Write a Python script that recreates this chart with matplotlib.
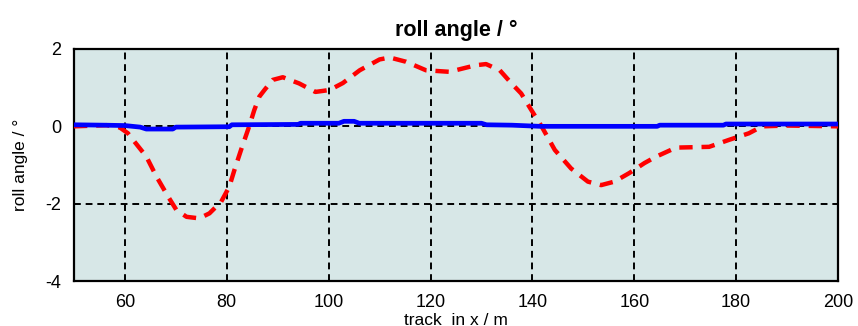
import matplotlib
matplotlib.use("Agg")
import matplotlib.pyplot as plt
import numpy as np

plt.rcParams["font.family"] = ["Liberation Sans", "DejaVu Sans"]
plt.rcParams["axes.unicode_minus"] = False

# 横揺れ角 (roll angle) — 赤破線
red_x = [50, 56.4, 59, 60.6, 61.9, 64.2, 66.2, 68.5, 70.1, 72.1, 74.6, 76.6,
         78.9, 80.5, 81.5, 82.8, 84.4, 85.4, 86.4, 87.4, 89, 91, 94.2, 97.4,
         100.2, 102.8, 106.1, 110, 112, 115.2, 119.1, 123.7, 128.9, 130.9,
         133.6, 135.9, 137.8, 139.8, 141.8, 144.4, 147.6, 150.9, 153.5, 156.1,
         159, 162, 164.2, 168.2, 174.7, 178.6, 182.5, 185.1, 190, 200]
red_y = [0.0, 0.03, -0.03, -0.18, -0.4, -0.78, -1.3, -1.82, -2.16, -2.34,
         -2.38, -2.25, -1.95, -1.56, -1.13, -0.61, 0.0, 0.42, 0.77, 0.94, 1.2,
         1.27, 1.11, 0.89, 0.94, 1.12, 1.45, 1.73, 1.78, 1.67, 1.45, 1.41, 1.58,
         1.61, 1.45, 1.11, 0.85, 0.42, 0.0, -0.61, -1.09, -1.43, -1.52, -1.43,
         -1.21, -0.95, -0.79, -0.55, -0.53, -0.35, -0.18, 0.0, 0.02, 0.0]

# 横揺れ角 — 青実線 (ほぼ 0)
blue_x = [50, 56, 60, 63, 64.2, 69.4, 70, 80.5, 81, 94, 94.5, 102, 103, 105,
          106, 130, 131, 136, 141.5, 164.5, 165, 177.5, 178, 200]
blue_y = [0.04, 0.03, 0.02, -0.02, -0.07, -0.07, -0.02, -0.01, 0.04, 0.05,
          0.08, 0.08, 0.13, 0.13, 0.08, 0.08, 0.04, 0.03, 0.0, 0.0, 0.03, 0.03,
          0.06, 0.06]

x_ticks = [60, 80, 100, 120, 140, 160, 180, 200]
y_ticks = [-4, -2, 0, 2]

fig = plt.figure(figsize=(8.58, 3.26), dpi=100)
ax = fig.add_axes([0.0862, 0.138, 0.8905, 0.7117])
ax.set_facecolor("#d7e7e7")

ax.plot(red_x, red_y, color="#ff0000", lw=3.2, ls=(0, (3, 2)), zorder=3)
ax.plot(blue_x, blue_y, color="#0000ff", lw=3.4, zorder=4)

ax.set_xlim(50, 200)
ax.set_ylim(-4, 2)
ax.set_xticks(x_ticks)
ax.set_yticks(y_ticks)
ax.tick_params(length=0, labelsize=13, pad=9)
ax.grid(True, color="black", ls=(0, (3.5, 2.5)), lw=1.4)
for s in ax.spines.values():
    s.set_linewidth(1.6)

ax.set_title("roll angle / °", fontsize=15.5, fontweight="bold", pad=9)
ax.set_ylabel("roll angle / °", fontsize=12.5, labelpad=13)
ax.set_xlabel("track  in x / m", fontsize=12.5, labelpad=2)

fig.savefig("out.png", dpi=100)
